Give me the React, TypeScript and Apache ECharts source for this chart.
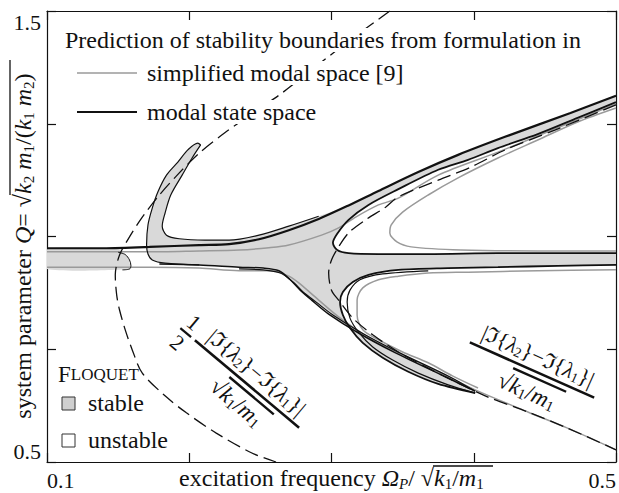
import React, { useEffect, useRef } from 'react';
import * as echarts from 'echarts';

const FONT = "'Liberation Serif', 'DejaVu Serif', serif";
const INK = '#111111';
const GRAY = '#9a9a9a';
const FILL = '#d9d9d9';

// axis setup
const X_MIN = 0.1, X_MAX = 0.5, X_STEP = 0.1;
const Y_MIN = 0.5, Y_MAX = 1.5, Y_STEP = 0.25;
const X_TICK_LABELS = ['0.1', '0.5'];
const Y_TICK_LABELS = ['0.5', '1.5'];

// dashed boundaries
const DASH_LEFT = [[0.341,1.500],[0.315,1.440],[0.291,1.382],[0.266,1.320],[0.246,1.276],[0.225,1.230],[0.207,1.185],[0.193,1.141],[0.179,1.092],[0.167,1.043],[0.158,0.999],[0.151,0.959],[0.148,0.915],[0.149,0.870],[0.151,0.837],[0.155,0.793],[0.160,0.748],[0.167,0.697],[0.184,0.644],[0.198,0.609],[0.219,0.564],[0.244,0.520],[0.261,0.500]];
const DASH_RIGHT = [[0.500,1.292],[0.457,1.236],[0.422,1.192],[0.398,1.154],[0.375,1.125],[0.347,1.088],[0.338,1.065],[0.324,1.037],[0.312,1.008],[0.305,0.977],[0.300,0.948],[0.298,0.919],[0.300,0.881],[0.305,0.859],[0.315,0.819],[0.329,0.782],[0.347,0.744],[0.368,0.708],[0.389,0.675],[0.410,0.644],[0.438,0.611],[0.466,0.575],[0.500,0.527]];

// modal state space (black)
const B1 = [[0.100,0.974],[0.137,0.974],[0.172,0.977],[0.207,0.981],[0.228,0.983],[0.249,0.994],[0.270,1.014],[0.291,1.039],[0.312,1.069],[0.333,1.101],[0.361,1.143],[0.389,1.181],[0.422,1.221],[0.468,1.274],[0.500,1.312]];
const B_TONGUE_IN = [[0.208,1.203],[0.202,1.174],[0.195,1.136],[0.187,1.092],[0.183,1.052],[0.181,1.023],[0.184,1.003],[0.193,0.995],[0.211,0.992],[0.228,0.992],[0.249,1.003],[0.270,1.023],[0.291,1.045]];
const B_TONGUE_OUT = [[0.208,1.203],[0.206,1.207],[0.199,1.192],[0.192,1.165],[0.184,1.136],[0.178,1.099],[0.174,1.063],[0.171,1.026],[0.170,0.981],[0.171,0.961],[0.174,0.948],[0.183,0.941],[0.207,0.937]];
const B_LOW = [[0.179,0.939],[0.207,0.937],[0.235,0.932],[0.252,0.930],[0.263,0.924],[0.271,0.904],[0.278,0.881],[0.286,0.859],[0.298,0.828],[0.319,0.786],[0.345,0.742],[0.380,0.689],[0.401,0.657]];
const B_LOW2 = [[0.235,0.928],[0.252,0.926],[0.264,0.919],[0.273,0.899],[0.280,0.877],[0.289,0.855],[0.301,0.826],[0.322,0.785],[0.348,0.742],[0.383,0.689],[0.401,0.657]];
const B2 = [[0.500,1.298],[0.473,1.263],[0.445,1.227],[0.417,1.196],[0.396,1.170],[0.375,1.148],[0.347,1.105],[0.326,1.070],[0.312,1.037],[0.304,1.006],[0.301,0.986],[0.304,0.970],[0.312,0.963],[0.333,0.961],[0.368,0.961],[0.417,0.963],[0.459,0.963],[0.500,0.963]];
const B3 = [[0.500,0.937],[0.459,0.935],[0.417,0.932],[0.382,0.930],[0.347,0.926],[0.326,0.915],[0.315,0.899],[0.308,0.877],[0.306,0.855],[0.308,0.826],[0.313,0.797],[0.322,0.764],[0.336,0.731],[0.354,0.700],[0.375,0.673],[0.401,0.653]];
const B3_INNER = [[0.368,0.924],[0.336,0.917],[0.320,0.904],[0.313,0.881],[0.311,0.855],[0.313,0.819],[0.319,0.788],[0.329,0.755],[0.343,0.726],[0.361,0.697],[0.382,0.671],[0.401,0.653]];
const B_HOOK = [[0.150,0.965],[0.155,0.960],[0.158,0.948],[0.159,0.935],[0.158,0.928],[0.153,0.926]];

// simplified modal space (gray)
const G1 = [[0.100,0.966],[0.137,0.966],[0.170,0.966],[0.207,0.968],[0.235,0.970],[0.256,0.975],[0.270,0.981],[0.293,1.003],[0.305,1.019],[0.317,1.043],[0.333,1.070],[0.347,1.085],[0.375,1.136],[0.417,1.187],[0.459,1.241],[0.500,1.294]];
const G2 = [[0.500,1.285],[0.473,1.254],[0.445,1.214],[0.417,1.174],[0.389,1.130],[0.368,1.092],[0.350,1.054],[0.342,1.026],[0.341,1.008],[0.346,0.988],[0.356,0.977],[0.391,0.970],[0.445,0.968],[0.500,0.968]];
const G3 = [[0.500,0.926],[0.445,0.924],[0.396,0.921],[0.368,0.919],[0.347,0.912],[0.333,0.904],[0.322,0.886],[0.318,0.859],[0.318,0.826],[0.322,0.793],[0.333,0.771],[0.350,0.744],[0.368,0.720],[0.385,0.691],[0.403,0.664]];
const G4 = [[0.100,0.932],[0.137,0.932],[0.172,0.932],[0.207,0.930],[0.235,0.924],[0.258,0.924],[0.270,0.912],[0.277,0.897],[0.291,0.859],[0.305,0.822],[0.326,0.777],[0.354,0.731],[0.382,0.689],[0.401,0.660],[0.438,0.611],[0.466,0.575],[0.500,0.527]];

// Floquet stable regions (filled)
const FILL_LEFT = [[0.100,0.972],[0.150,0.972],[0.154,0.963],[0.157,0.955],[0.158,0.941],[0.159,0.928],[0.100,0.928]];
const FILL_MAIN = [
  [0.206,1.207],[0.199,1.192],[0.192,1.165],[0.184,1.136],[0.178,1.099],[0.174,1.063],[0.171,1.026],[0.170,0.981],[0.171,0.961],[0.174,0.948],[0.183,0.941],
  [0.207,0.937],[0.235,0.932],[0.252,0.930],[0.263,0.924],[0.271,0.904],[0.278,0.881],[0.286,0.859],[0.298,0.828],[0.319,0.786],[0.345,0.742],[0.380,0.689],[0.401,0.657],
  [0.375,0.673],[0.354,0.700],[0.336,0.731],[0.322,0.764],[0.313,0.797],[0.308,0.826],[0.306,0.855],[0.308,0.877],[0.315,0.899],[0.326,0.915],[0.347,0.926],[0.382,0.930],[0.417,0.932],[0.459,0.935],[0.500,0.937],
  [0.500,0.963],[0.459,0.963],[0.417,0.963],[0.368,0.961],[0.333,0.961],[0.312,0.963],[0.304,0.970],[0.301,0.986],[0.304,1.006],[0.312,1.037],[0.326,1.070],[0.347,1.105],[0.375,1.148],[0.396,1.170],[0.417,1.196],[0.445,1.227],[0.473,1.263],[0.500,1.298],
  [0.500,1.312],[0.468,1.274],[0.422,1.221],[0.389,1.181],[0.361,1.143],[0.333,1.101],[0.312,1.069],[0.291,1.045],
  [0.270,1.023],[0.249,1.003],[0.228,0.992],[0.211,0.992],[0.193,0.995],[0.184,1.003],[0.181,1.023],[0.183,1.052],[0.187,1.092],[0.195,1.136],[0.202,1.174],[0.208,1.203]
];

const LEGEND_TITLE = 'Prediction of stability boundaries from formulation in';
const LEGEND_ITEMS = ['simplified modal space [9]', 'modal state space'];
const FLOQUET_ITEMS = ['stable', 'unstable'];

function lineSeries(data: number[][], color: string, width: number, dashed = false, z = 3) {
  return {
    type: 'line',
    data,
    showSymbol: false,
    symbol: 'none',
    smooth: 0.3,
    silent: true,
    z,
    lineStyle: { color, width, type: dashed ? [14, 6] : 'solid', cap: 'butt' },
  };
}

function polySeries(points: number[][]) {
  return {
    type: 'custom',
    silent: true,
    z: 1,
    clip: true,
    data: [points[0]],
    renderItem: (_params: any, api: any) => ({
      type: 'polygon',
      shape: { points: points.map((p) => api.coord(p)), smooth: 0.2 },
      style: { fill: FILL, stroke: null },
    }),
  };
}

const base = { fontFamily: FONT, fill: INK, color: INK };
function richSet(size: number) {
  const sub = Math.round(size * 0.64);
  return {
    n: { ...base, fontSize: size },
    i: { ...base, fontSize: size, fontStyle: 'italic' },
    s: { ...base, fontSize: sub, padding: [Math.round(size * 0.45), 0, 0, 0] },
    si: { ...base, fontSize: sub, fontStyle: 'italic', padding: [Math.round(size * 0.45), 0, 0, 0] },
    sc: { ...base, fontSize: Math.round(size * 0.74) },
  };
}

function txt(x: number, y: number, text: string, align = 'left', size = 24, extra: any = {}, bg?: string) {
  const style: any = { text, fontFamily: FONT, fontSize: size, fill: INK, align, verticalAlign: 'middle', textAlign: align, textVerticalAlign: 'middle', rich: richSet(size) };
  if (bg) { style.backgroundColor = bg; style.padding = [0, 2]; }
  return { type: 'text', x, y, silent: true, z: 10, ...extra, style };
}

const NUM = '|ℑ{{i|λ}{s|2}}−ℑ{{i|λ}{s|1}}|';
const DEN = '√{i|k}{s|1}/{i|m}{s|1}';

function fraction(cx: number, cy: number, angle: number, half: boolean) {
  const children: any[] = [
    { type: 'line', shape: { x1: -68, y1: 0, x2: 68, y2: 0 }, style: { stroke: INK, lineWidth: 2.6 } },
    txt(0, -15, NUM, 'center', 22),
    { type: 'line', shape: { x1: -18, y1: 6, x2: 40, y2: 6 }, style: { stroke: INK, lineWidth: 2.4 } },
    txt(4, 21, DEN, 'center', 23),
  ];
  if (half) {
    children.push(
      { type: 'line', shape: { x1: -87, y1: 0, x2: -73, y2: 0 }, style: { stroke: INK, lineWidth: 2.2 } },
      txt(-80, -13, '1', 'center', 22),
      txt(-80, 13, '2', 'center', 22),
    );
  }
  return { type: 'group', x: cx, y: cy, rotation: -angle * Math.PI / 180, silent: true, children };
}

export default function App() {
  const ref = useRef<HTMLDivElement>(null);
  useEffect(() => {
    if (!ref.current) return;
    const chart = echarts.init(ref.current, null, { renderer: 'svg' });
    const axisLine = { show: true, lineStyle: { color: INK, width: 1.2 } };
    const axisTick = { show: true, inside: true, length: 9, lineStyle: { color: INK, width: 1.2 } };
    const labelStyle = { fontFamily: FONT, fontSize: 22, color: INK };
    chart.setOption({
      animation: false,
      backgroundColor: '#ffffff',
      grid: { left: 47, right: 1, top: 11, bottom: 31, containLabel: false },
      xAxis: [
        {
          type: 'value', min: X_MIN, max: X_MAX, interval: X_STEP, position: 'bottom',
          axisLine, axisTick, splitLine: { show: false },
          axisLabel: {
            ...labelStyle, margin: 7, alignMinLabel: 'left', alignMaxLabel: 'right',
            formatter: (v: number) => (X_TICK_LABELS.includes(v.toFixed(1)) ? v.toFixed(1) : ''),
          },
        },
        {
          type: 'value', min: X_MIN, max: X_MAX, interval: X_STEP, position: 'top',
          axisLine, axisTick, splitLine: { show: false }, axisLabel: { show: false },
        },
      ],
      yAxis: [
        {
          type: 'value', min: Y_MIN, max: Y_MAX, interval: Y_STEP, position: 'left',
          axisLine, axisTick, splitLine: { show: false },
          axisLabel: {
            ...labelStyle, margin: 6, verticalAlignMinLabel: 'bottom', verticalAlignMaxLabel: 'top',
            formatter: (v: number) => (Y_TICK_LABELS.includes(v.toFixed(1)) ? v.toFixed(1) : ''),
          },
        },
        {
          type: 'value', min: Y_MIN, max: Y_MAX, interval: Y_STEP, position: 'right',
          axisLine, axisTick, splitLine: { show: false }, axisLabel: { show: false },
        },
      ],
      series: [
        polySeries(FILL_LEFT),
        polySeries(FILL_MAIN),
        lineSeries(G1, GRAY, 1.5),
        lineSeries(G2, GRAY, 1.5),
        lineSeries(G3, GRAY, 1.5),
        lineSeries(G4, GRAY, 1.5),
        lineSeries(B_TONGUE_OUT, INK, 1.2, false, 4),
        lineSeries(B_TONGUE_IN, INK, 1.2, false, 4),
        lineSeries(B_LOW, INK, 1.5, false, 4),
        lineSeries(B_LOW2, INK, 1.2, false, 4),
        lineSeries(B3, INK, 1.8, false, 4),
        lineSeries(B3_INNER, INK, 1.2, false, 4),
        lineSeries(B2, INK, 1.8, false, 4),
        lineSeries(B1, INK, 2.2, false, 4),
        lineSeries(B_HOOK, INK, 1.0, false, 4),
        lineSeries(DASH_LEFT, INK, 1.3, true, 5),
        lineSeries(DASH_RIGHT, INK, 1.3, true, 5),
      ],
      graphic: [
        txt(63, 40, LEGEND_TITLE, 'left', 24, {}, '#ffffff'),
        { type: 'line', silent: true, shape: { x1: 77, y1: 73, x2: 137, y2: 73 }, style: { stroke: GRAY, lineWidth: 1.6 } },
        txt(145, 73, LEGEND_ITEMS[0], 'left', 24, {}, '#ffffff'),
        { type: 'line', silent: true, shape: { x1: 77, y1: 112, x2: 137, y2: 112 }, style: { stroke: INK, lineWidth: 2 } },
        txt(145, 112, LEGEND_ITEMS[1], 'left', 24, {}, '#ffffff'),
        txt(58, 374, '{n|F}{sc|LOQUET}', 'left', 23),
        { type: 'rect', silent: true, shape: { x: 62, y: 397, width: 13, height: 13 }, style: { fill: '#cfcfcf', stroke: '#333', lineWidth: 1 } },
        txt(88, 403, FLOQUET_ITEMS[0], 'left', 24),
        { type: 'rect', silent: true, shape: { x: 62, y: 434, width: 13, height: 13 }, style: { fill: '#ffffff', stroke: '#333', lineWidth: 1 } },
        txt(88, 440, FLOQUET_ITEMS[1], 'left', 24),
        fraction(247, 384, 40, true),
        fraction(532, 370, 24, false),
        // x axis title
        txt(434, 478, '{n|excitation frequency }{i|Ω}{si|P}{n|/ √}', 'right', 24),
        txt(434, 478, '{i|k}{s|1}{n|/}{i|m}{s|1}', 'left', 24),
        { type: 'line', silent: true, shape: { x1: 433, y1: 466, x2: 493, y2: 466 }, style: { stroke: INK, lineWidth: 1.3 } },
        // y axis title (rotated)
        txt(23, 194, '{n|system parameter }{i|Q}{n|= √}', 'right', 24, { rotation: Math.PI / 2 }),
        txt(23, 194, '{i|k}{s|2}{n| }{i|m}{s|1}{n|/(}{i|k}{s|1}{n| }{i|m}{s|2}{n|)}', 'left', 24, { rotation: Math.PI / 2 }),
        { type: 'line', silent: true, shape: { x1: 10, y1: 60, x2: 10, y2: 195 }, style: { stroke: INK, lineWidth: 1.3 } },
      ],
    });
    return () => chart.dispose();
  }, []);
  return <div ref={ref} style={{ position: 'fixed', left: 0, top: 0, width: 619, height: 493, background: '#fff' }} />;
}
